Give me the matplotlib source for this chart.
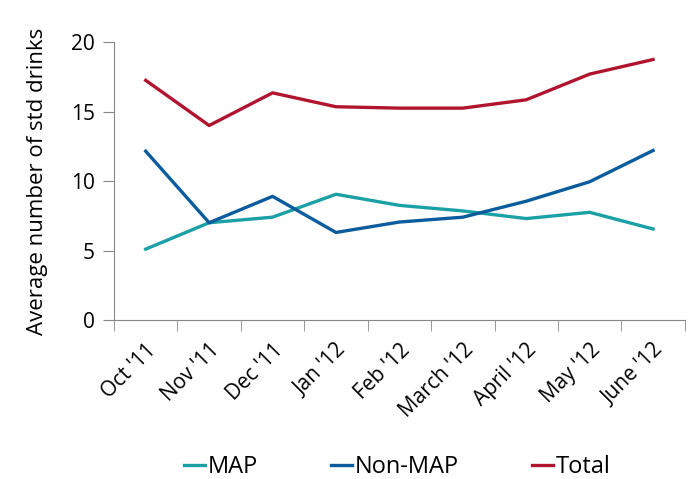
import matplotlib
matplotlib.use('Agg')
import matplotlib.pyplot as plt
import numpy as np

plt.rcParams.update({
    'font.family': ['Open Sans', 'DejaVu Sans'],
    'font.size': 15,
})

months = ["Oct '11", "Nov '11", "Dec '11", "Jan '12", "Feb '12",
          "March '12", "April '12", "May '12", "June '12"]
map_vals = [5.1, 7.0, 7.4, 9.05, 8.25, 7.85, 7.3, 7.75, 6.55]
nonmap_vals = [12.15, 7.0, 8.9, 6.3, 7.05, 7.4, 8.55, 9.95, 12.2]
total_vals = [17.25, 14.0, 16.35, 15.35, 15.25, 15.25, 15.85, 17.7, 18.75]

fig = plt.figure(figsize=(6.91, 4.79), dpi=100)
ax = fig.add_axes([0.165, 0.332, 0.826, 0.58])

x = np.arange(len(months))
ax.plot(x, map_vals, color='#1BA0A6', lw=2.4, label='MAP')
ax.plot(x, nonmap_vals, color='#0A5C9C', lw=2.4, label='Non-MAP')
ax.plot(x, total_vals, color='#B0142F', lw=2.4, label='Total')

ax.set_xlim(-0.5, len(months) - 0.5)
ax.set_ylim(0, 20)
ax.set_yticks([0, 5, 10, 15, 20])
ax.set_ylabel('Average number of std drinks', fontsize=16, labelpad=16)

ax.set_xticks(x)
ax.set_xticklabels(months, rotation=45, ha='right', rotation_mode='anchor')
ax.tick_params(axis='x', which='major', length=0, pad=14)
ax.set_xticks(np.arange(len(months) + 1) - 0.5, minor=True)
ax.tick_params(axis='x', which='minor', length=8, color='#888888', direction='out')
ax.tick_params(axis='y', length=8, color='#888888', direction='out', pad=6)

for s in ['top', 'right']:
    ax.spines[s].set_visible(False)
for s in ['left', 'bottom']:
    ax.spines[s].set_color('#888888')

fig.legend(loc='lower center', bbox_to_anchor=(0.575, -0.045), ncol=3, frameon=False,
           handlelength=0.9, handletextpad=0.1, columnspacing=3.1, fontsize=17)

fig.savefig('out.png', dpi=100, facecolor='white')
